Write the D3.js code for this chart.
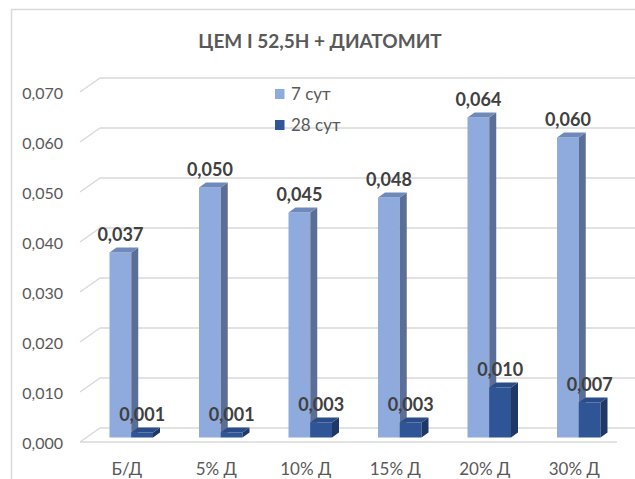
<!DOCTYPE html>
<html>
<head>
<meta charset="utf-8">
<script src="https://cdn.jsdelivr.net/npm/d3@7"></script>
<style>
  html, body { margin: 0; padding: 0; background: #fff; }
  svg { display: block; font-family: Lato, "Open Sans", sans-serif; }
</style>
</head>
<body>
<svg id="chart" width="635" height="479"></svg>
<script>
// Data
const categories = ["Б/Д", "5% Д", "10% Д", "15% Д", "20% Д", "30% Д"];
const seriesNames = ["7 сут", "28 сут"];
const values7 = [0.037, 0.050, 0.045, 0.048, 0.064, 0.060];
const values28 = [0.001, 0.001, 0.003, 0.003, 0.010, 0.007];
const tickValues = [0, 0.01, 0.02, 0.03, 0.04, 0.05, 0.06, 0.07];
const titleText = "ЦЕМ I 52,5Н + ДИАТОМИТ";

const series = [values7, values28];
const faceColors = [
  { front: "#8faadc", side: "#5b6f96", top: "#7089bb" },
  { front: "#2f5597", side: "#1f3966", top: "#2a4c88" }
];

const svg = d3.select("#chart");
const W = 635, H = 479;

// 3D geometry: floor depth offset and bar depth
const depth = { dx: 20, dy: -14 };
const barDepth = { dx: 7, dy: -5 };
const barShift = { dx: (depth.dx - barDepth.dx) / 2, dy: (depth.dy - barDepth.dy) / 2 };

const plotLeft = 80, plotRight = 617;
const yFront = d3.scaleLinear().domain([0, 0.07]).range([442, 92]);
const x0 = d3.scaleBand().domain(categories).range([plotLeft, plotRight]).padding(0);
const barW = 21.75;
const x1 = d3.scaleBand().domain(seriesNames)
  .range([x0.bandwidth() / 2 - barW, x0.bandwidth() / 2 + barW]).padding(0);

const comma = v => d3.format(".3f")(v).replace(".", ",");

// Chart frame
svg.append("line").attr("x1", 11).attr("x2", W).attr("y1", 9.5).attr("y2", 9.5)
  .attr("stroke", "#d9d9d9").attr("stroke-width", 1.5);
svg.append("line").attr("x1", 11.5).attr("x2", 11.5).attr("y1", 9).attr("y2", H)
  .attr("stroke", "#d9d9d9").attr("stroke-width", 1.5);

// Title
svg.append("text").attr("x", 320).attr("y", 48).attr("text-anchor", "middle")
  .attr("font-size", 19).attr("font-weight", "bold").attr("fill", "#595959")
  .text(titleText);

// Back wall gridlines and side wall diagonals
const grid = svg.append("g").attr("stroke", "#d9d9d9").attr("stroke-width", 1.5).attr("fill", "none");
tickValues.forEach(v => {
  const yf = yFront(v), yb = yf + depth.dy;
  grid.append("line").attr("x1", plotLeft).attr("y1", yf)
    .attr("x2", plotLeft + depth.dx).attr("y2", yb);
  grid.append("line").attr("x1", plotLeft + depth.dx).attr("y1", yb)
    .attr("x2", plotRight + depth.dx).attr("y2", yb);
});
// Floor front edge
grid.append("line").attr("x1", plotLeft).attr("y1", yFront(0))
  .attr("x2", plotRight).attr("y2", yFront(0));

// Value axis labels
const yAxis = d3.axisLeft(yFront).tickValues(tickValues).tickSize(0).tickPadding(0)
  .tickFormat(comma);
const yAxisG = svg.append("g").attr("transform", "translate(63,1)").call(yAxis);
yAxisG.select(".domain").remove();
yAxisG.selectAll("text").attr("font-size", 16).attr("fill", "#595959")
  .attr("font-family", "Lato, 'Open Sans', sans-serif");

// Category labels
const xAxis = d3.axisBottom(x0).tickSize(0).tickPadding(0);
const xAxisG = svg.append("g").attr("transform", "translate(2,463)").call(xAxis);
xAxisG.select(".domain").remove();
xAxisG.selectAll("text").attr("font-size", 17).attr("fill", "#595959")
  .attr("font-family", "Lato, 'Open Sans', sans-serif");

// 3D bars
const bars = svg.append("g");
const labels = svg.append("g");
categories.forEach((cat, i) => {
  series.forEach((vals, s) => {
    const v = vals[i];
    const x = x0(cat) + x1(seriesNames[s]) + barShift.dx;
    const base = yFront(0) + barShift.dy;
    const top = yFront(v) + barShift.dy;
    const c = faceColors[s];
    const g = bars.append("g");
    g.append("rect").attr("x", x).attr("y", top).attr("width", barW).attr("height", base - top)
      .attr("fill", c.front);
    g.append("polygon").attr("points", [
      [x + barW, top], [x + barW + barDepth.dx, top + barDepth.dy],
      [x + barW + barDepth.dx, base + barDepth.dy], [x + barW, base]
    ].map(p => p.join(",")).join(" ")).attr("fill", c.side);
    g.append("polygon").attr("points", [
      [x, top], [x + barDepth.dx, top + barDepth.dy],
      [x + barW + barDepth.dx, top + barDepth.dy], [x + barW, top]
    ].map(p => p.join(",")).join(" ")).attr("fill", c.top);
    labels.append("text").attr("x", x + barW / 2).attr("y", top + barDepth.dy - 7)
      .attr("text-anchor", "middle").attr("font-size", 18).attr("font-weight", "bold")
      .attr("fill", "#404040").text(comma(v));
  });
});

// Legend
const legend = svg.append("g");
seriesNames.forEach((name, s) => {
  const y = 89 + s * 31;
  legend.append("rect").attr("x", 275).attr("y", y).attr("width", 9.5).attr("height", 10)
    .attr("fill", faceColors[s].front);
  legend.append("text").attr("x", 291).attr("y", y + 10.5).attr("font-size", 17)
    .attr("fill", "#595959").text(name);
});
</script>
</body>
</html>
